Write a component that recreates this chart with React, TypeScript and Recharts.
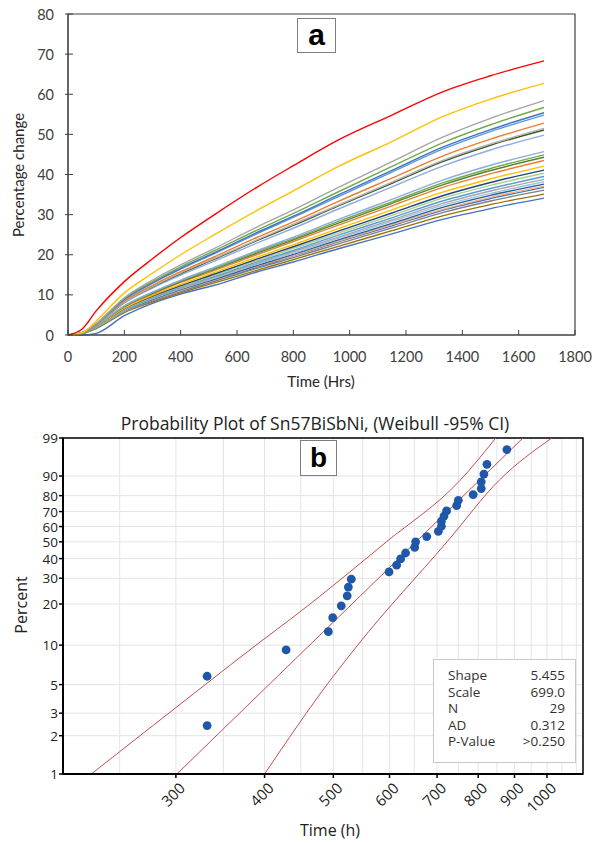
import React from "react";
import {
  LineChart,
  Line,
  XAxis,
  YAxis,
  ReferenceArea,
  ComposedChart,
  Scatter,
  CartesianGrid,
} from "recharts";

// ---------- Panel (a): percentage change vs time ----------
const TIME_HRS = [0, 50, 100, 200, 300, 400, 520, 670, 800, 960, 1150, 1330, 1500, 1690];
const X_TICKS_A = [0, 200, 400, 600, 800, 1000, 1200, 1400, 1600, 1800];
const Y_TICKS_A = [0, 10, 20, 30, 40, 50, 60, 70, 80];

const CURVE_01 = [0, 1.5, 6.0, 13.3, 19.0, 24.3, 30.0, 36.8, 42.2, 48.6, 54.8, 60.6, 64.6, 68.3];
const CURVE_02 = [0, 0.5, 3.5, 10.5, 15.4, 20.0, 25.0, 31.0, 35.9, 42.0, 48.2, 54.4, 58.8, 62.7];
const CURVE_03 = [0, 0.6, 2.9, 9.3, 13.7, 17.5, 21.6, 26.9, 31.2, 36.8, 43.2, 49.3, 54.0, 58.4];
const CURVE_04 = [0, 0.6, 2.8, 9.1, 13.3, 17.0, 21.0, 26.1, 30.3, 35.7, 42.0, 47.9, 52.4, 56.7];
const CURVE_05 = [0, 0.6, 2.8, 8.9, 13.0, 16.6, 20.5, 25.5, 29.6, 34.9, 41.0, 46.8, 51.2, 55.4];
const CURVE_06 = [0, 0.5, 2.7, 8.8, 12.9, 16.4, 20.3, 25.2, 29.3, 34.5, 40.6, 46.3, 50.7, 54.8];
const CURVE_07 = [0, 0.5, 2.6, 8.4, 12.4, 15.8, 19.5, 24.3, 28.2, 33.3, 39.1, 44.6, 48.8, 52.8];
const CURVE_08 = [0, 0.5, 2.6, 8.2, 12.1, 15.5, 19.1, 23.7, 27.6, 32.4, 38.1, 43.5, 47.6, 51.5];
const CURVE_09 = [0, 0.5, 2.6, 8.2, 12.0, 15.3, 18.9, 23.5, 27.3, 32.2, 37.8, 43.2, 47.3, 51.1];
const CURVE_10 = [0, 0.5, 2.5, 8.0, 11.7, 14.9, 18.4, 22.9, 26.6, 31.4, 36.9, 42.1, 46.1, 49.8];
const CURVE_11 = [0, 0.5, 2.3, 7.3, 10.7, 13.7, 16.9, 21.0, 24.4, 28.8, 33.8, 38.6, 42.3, 45.7];
const CURVE_12 = [0, 0.4, 2.2, 7.2, 10.6, 13.5, 16.6, 20.7, 24.0, 28.3, 33.2, 37.9, 41.5, 44.9];
const CURVE_13 = [0, 0.4, 2.2, 7.1, 10.4, 13.3, 16.4, 20.4, 23.7, 27.9, 32.8, 37.4, 41.0, 44.3];
const CURVE_14 = [0, 0.4, 2.2, 7.0, 10.2, 13.1, 16.1, 20.0, 23.3, 27.4, 32.2, 36.8, 40.2, 43.5];
const CURVE_15 = [0, 0.4, 2.1, 6.7, 9.9, 12.6, 15.6, 19.4, 22.5, 26.5, 31.2, 35.6, 38.9, 42.1];
const CURVE_16 = [0, 0.4, 2.1, 6.6, 9.7, 12.3, 15.2, 18.9, 22.0, 25.9, 30.4, 34.7, 38.0, 41.1];
const CURVE_17 = [0, 0.4, 2.0, 6.4, 9.5, 12.1, 14.9, 18.5, 21.6, 25.4, 29.8, 34.1, 37.3, 40.3];
const CURVE_18 = [0, 0.4, 2.0, 6.3, 9.3, 11.9, 14.6, 18.2, 21.1, 24.9, 29.2, 33.4, 36.5, 39.5];
const CURVE_19 = [0, 0.4, 1.9, 6.2, 9.1, 11.6, 14.4, 17.8, 20.8, 24.4, 28.7, 32.8, 35.9, 38.8];
const CURVE_20 = [0, 0.4, 1.9, 6.1, 9.0, 11.5, 14.1, 17.6, 20.4, 24.1, 28.3, 32.3, 35.3, 38.2];
const CURVE_21 = [0, 0.4, 1.9, 6.0, 8.8, 11.3, 13.9, 17.3, 20.1, 23.7, 27.8, 31.8, 34.8, 37.6];
const CURVE_22 = [0, 0.4, 1.9, 5.9, 8.7, 11.1, 13.7, 17.1, 19.8, 23.4, 27.5, 31.3, 34.3, 37.1];
const CURVE_23 = [0, 0.4, 1.8, 5.9, 8.6, 11.0, 13.6, 16.9, 19.7, 23.2, 27.2, 31.1, 34.0, 36.8];
const CURVE_24 = [0, 0.4, 1.8, 5.8, 8.5, 10.8, 13.4, 16.6, 19.3, 22.7, 26.7, 30.5, 33.4, 36.1];
const CURVE_25 = [0, 0.3, 1.6, 5.6, 8.2, 10.5, 13.0, 16.1, 18.8, 22.1, 26.0, 29.7, 32.5, 35.1];
const CURVE_26 = [0, 0, 0.4, 4.8, 7.9, 10.2, 12.4, 15.7, 18.2, 21.5, 25.2, 28.8, 31.5, 34.1];

const CURVES = [
  CURVE_26, CURVE_25, CURVE_24, CURVE_23, CURVE_22, CURVE_21, CURVE_20, CURVE_19,
  CURVE_18, CURVE_17, CURVE_16, CURVE_15, CURVE_14, CURVE_13, CURVE_12, CURVE_11,
  CURVE_10, CURVE_09, CURVE_08, CURVE_07, CURVE_06, CURVE_05, CURVE_04, CURVE_03,
  CURVE_02, CURVE_01,
];
const CURVE_COLORS = [
  "#4472c4", "#997300", "#7f7f7f", "#4472c4", "#f4b183", "#255e91", "#9dc3e6", "#a5a5a5",
  "#5b9bd5", "#a9d18e", "#264478", "#ffc000", "#ed7d31", "#548235", "#70ad47", "#8faadc",
  "#8faadc", "#375623", "#b4b4b4", "#ed7d31", "#5b9bd5", "#4472c4", "#70ad47", "#a5a5a5",
  "#ffc000", "#ff0000",
];

// ---------- Panel (b): Weibull probability plot ----------
const FAIL_TIME_H = [332, 332, 429, 492, 499, 513, 523, 525, 530, 599, 614, 622, 632, 651, 653, 677, 703, 710, 710, 716, 722, 746, 750, 787, 808, 808, 815, 823, 878];
const FAIL_PCT = [2.4, 5.8, 9.2, 12.6, 16.0, 19.4, 22.8, 26.2, 29.6, 33.0, 36.4, 39.8, 43.2, 46.6, 50.0, 53.4, 56.8, 60.2, 63.6, 67.0, 70.4, 73.8, 77.2, 80.6, 84.0, 87.4, 90.8, 94.2, 97.6];
const FIT_TIME = [301, 925];
const FIT_PCT = [1, 99];
const CI_LEFT_TIME = [228, 330, 389, 445, 594, 754, 847];
const CI_LEFT_PCT = [1, 5, 10, 17, 50, 88, 99];
const CI_RIGHT_TIME = [400, 495, 541, 723, 858, 1016];
const CI_RIGHT_PCT = [1, 5.4, 10, 50, 88.4, 99];
const Y_TICK_PCT = [1, 2, 3, 5, 10, 20, 30, 40, 50, 60, 70, 80, 90, 99];
const X_LABEL_TICKS = [300, 400, 500, 600, 700, 800, 900, 1000];
const X_GRID_TICKS = [250, 300, 350, 400, 450, 500, 550, 600, 650, 700, 750, 800, 850, 900, 950, 1000, 1050, 1100];
const STATS_LABELS = ["Shape", "Scale", "N", "AD", "P-Value"];
const STATS_VALUES = ["5.455", "699.0", "29", "0.312", ">0.250"];

const wb = (p: number) => Math.log(-Math.log(1 - p / 100));

const rowsA = TIME_HRS.map((t, i) => {
  const r: any = { t };
  CURVES.forEach((c, k) => (r["c" + k] = c[i]));
  return r;
});
const pointsB = FAIL_TIME_H.map((t, i) => ({ t, w: wb(FAIL_PCT[i]) }));
const fitB = FIT_TIME.map((t, i) => ({ t, w: wb(FIT_PCT[i]) }));
const ciLeftB = CI_LEFT_TIME.map((t, i) => ({ t, w: wb(CI_LEFT_PCT[i]) }));
const ciRightB = CI_RIGHT_TIME.map((t, i) => ({ t, w: wb(CI_RIGHT_PCT[i]) }));

const FONT_A = "Lato, 'Open Sans', sans-serif";
const FONT_B = "'Open Sans', 'Noto Sans', sans-serif";

const XTickA = (p: any) => (
  <g>
    <line x1={p.x} x2={p.x} y1={p.y} y2={p.y - 5} stroke="#404040" />
    <text x={p.x} y={p.y + 21} textAnchor="middle" dominantBaseline="central" fontSize={14.5} fill="#404040" fontFamily={FONT_A}>
      {p.payload.value}
    </text>
  </g>
);
const YTickA = (p: any) => (
  <g>
    <line x1={p.x - 3} x2={p.x + 5} y1={p.y} y2={p.y} stroke="#404040" />
    <text x={p.x - 14} y={p.y} textAnchor="end" dominantBaseline="central" fontSize={14.5} fill="#404040" fontFamily={FONT_A}>
      {p.payload.value}
    </text>
  </g>
);
const XTickB = (p: any) => {
  const v = p.payload.value;
  if (!X_LABEL_TICKS.includes(v)) return <g />;
  const ax = p.x + 6;
  const ay = p.y + 11;
  return (
    <g>
      <line x1={p.x} x2={p.x} y1={p.y} y2={p.y + 4} stroke="#000" strokeWidth={1.5} />
      <text x={ax} y={ay} transform={`rotate(-45, ${ax}, ${ay})`} textAnchor="end" dominantBaseline="central" fontSize={15} fill="#222" fontFamily={FONT_B}>
        {v}
      </text>
    </g>
  );
};
const YTickB = (p: any) => (
  <g>
    <line x1={p.x - 4} x2={p.x} y1={p.y} y2={p.y} stroke="#000" strokeWidth={1.5} />
    <text x={p.x - 5} y={p.y} textAnchor="end" dominantBaseline="central" fontSize={13.5} fill="#222" fontFamily={FONT_B}>
      {Y_TICK_PCT[p.index]}
    </text>
  </g>
);

const Dot = (p: any) => <circle cx={p.cx} cy={p.cy} r={4.4} fill="#1f58a8" />;

export default function App() {
  return (
    <div style={{ position: "absolute", left: 0, top: 0, width: 599, height: 844, background: "#fff" }}>
      <div style={{ position: "absolute", left: 0, top: 0 }}>
        <LineChart width={599} height={400} data={rowsA} margin={{ top: 14, right: 24, bottom: 15, left: 0 }}>
          <XAxis dataKey="t" type="number" domain={[0, 1800]} ticks={X_TICKS_A} interval={0} height={50}
            axisLine={{ stroke: "#404040" }} tickLine={false} tickSize={0} tickMargin={0} tick={XTickA} />
          <YAxis type="number" domain={[0, 80]} ticks={Y_TICKS_A} interval={0} width={68}
            axisLine={{ stroke: "#404040" }} tickLine={false} tickSize={0} tickMargin={0} tick={YTickA} />
          {CURVES.map((_, k) => (
            <Line key={k} dataKey={"c" + k} type="monotone" stroke={CURVE_COLORS[k]} strokeWidth={1.4} dot={false} isAnimationActive={false} />
          ))}
          <ReferenceArea x1={0} x2={1800} y1={0} y2={80} fill="none" stroke="#404040" strokeWidth={1.2} />
        </LineChart>
      </div>
      <div style={{ position: "absolute", left: -82, top: 164, width: 200, height: 22, lineHeight: "22px", textAlign: "center", transform: "rotate(-90deg)", fontFamily: FONT_A, fontSize: 15, color: "#262626" }}>
        Percentage change
      </div>
      <div style={{ position: "absolute", left: 221, top: 370, width: 200, height: 22, lineHeight: "22px", textAlign: "center", fontFamily: FONT_A, fontSize: 15, color: "#262626" }}>
        Time (Hrs)
      </div>
      <div style={{ position: "absolute", left: 297, top: 18, width: 37, height: 33, border: "1px solid #7f7f7f", background: "#fff", textAlign: "center", lineHeight: "31px", fontFamily: "'Liberation Sans', Arial, sans-serif", fontWeight: "bold", fontSize: 30, color: "#000" }}>
        a
      </div>

      <div style={{ position: "absolute", left: 0, top: 400 }}>
        <ComposedChart width={599} height={444} margin={{ top: 38, right: 16, bottom: 0, left: 0 }}>
          <CartesianGrid stroke="#e4e4e4" strokeWidth={1} />
          <XAxis dataKey="t" type="number" scale="log" domain={[208, 1124]} allowDataOverflow ticks={X_GRID_TICKS} interval={0} height={70}
            axisLine={{ stroke: "#000", strokeWidth: 2 }} tickLine={false} tickSize={0} tickMargin={0} tick={XTickB} />
          <YAxis dataKey="w" type="number" domain={[wb(1), wb(99)]} allowDataOverflow ticks={Y_TICK_PCT.map(wb)} interval={0} width={63}
            axisLine={{ stroke: "#000", strokeWidth: 2 }} tickLine={false} tickSize={0} tickMargin={0} tick={YTickB} />
          <Line data={ciLeftB} dataKey="w" type="monotone" stroke="#c0504d" strokeWidth={1} dot={false} isAnimationActive={false} />
          <Line data={fitB} dataKey="w" type="linear" stroke="#c0504d" strokeWidth={1} dot={false} isAnimationActive={false} />
          <Line data={ciRightB} dataKey="w" type="monotone" stroke="#c0504d" strokeWidth={1} dot={false} isAnimationActive={false} />
          <Scatter data={pointsB} dataKey="w" shape={Dot} isAnimationActive={false} />
          <ReferenceArea x1={208} x2={1124} y1={wb(1)} y2={wb(99)} fill="none" stroke="#000" strokeWidth={1.5} ifOverflow="visible" />
        </ComposedChart>
      </div>
      <div style={{ position: "absolute", left: 15, top: 411, width: 600, height: 24, lineHeight: "24px", textAlign: "center", fontFamily: FONT_B, fontSize: 17.5, color: "#222" }}>
        Probability Plot of Sn57BiSbNi, (Weibull -95% CI)
      </div>
      <div style={{ position: "absolute", left: -79, top: 594, width: 200, height: 22, lineHeight: "22px", textAlign: "center", transform: "rotate(-90deg)", fontFamily: FONT_B, fontSize: 16, color: "#222" }}>
        Percent
      </div>
      <div style={{ position: "absolute", left: 230, top: 818, width: 200, height: 24, lineHeight: "24px", textAlign: "center", fontFamily: FONT_B, fontSize: 16, color: "#222" }}>
        Time (h)
      </div>
      <div style={{ position: "absolute", left: 300, top: 440, width: 35, height: 34, border: "1px solid #7f7f7f", background: "#fff", textAlign: "center", lineHeight: "33px", fontFamily: "'Liberation Sans', Arial, sans-serif", fontWeight: "bold", fontSize: 28, color: "#000" }}>
        b
      </div>
      <div style={{ position: "absolute", left: 433, top: 659, width: 143, height: 104, border: "1px solid #c8c8c8", background: "#fff", boxSizing: "border-box", padding: "7px 10px 0 14px", fontFamily: FONT_B, fontSize: 13.5, color: "#333" }}>
        {STATS_LABELS.map((l, i) => (
          <div key={l} style={{ display: "flex", justifyContent: "space-between", height: 16.6, lineHeight: "16.6px" }}>
            <span>{l}</span>
            <span>{STATS_VALUES[i]}</span>
          </div>
        ))}
      </div>
    </div>
  );
}
